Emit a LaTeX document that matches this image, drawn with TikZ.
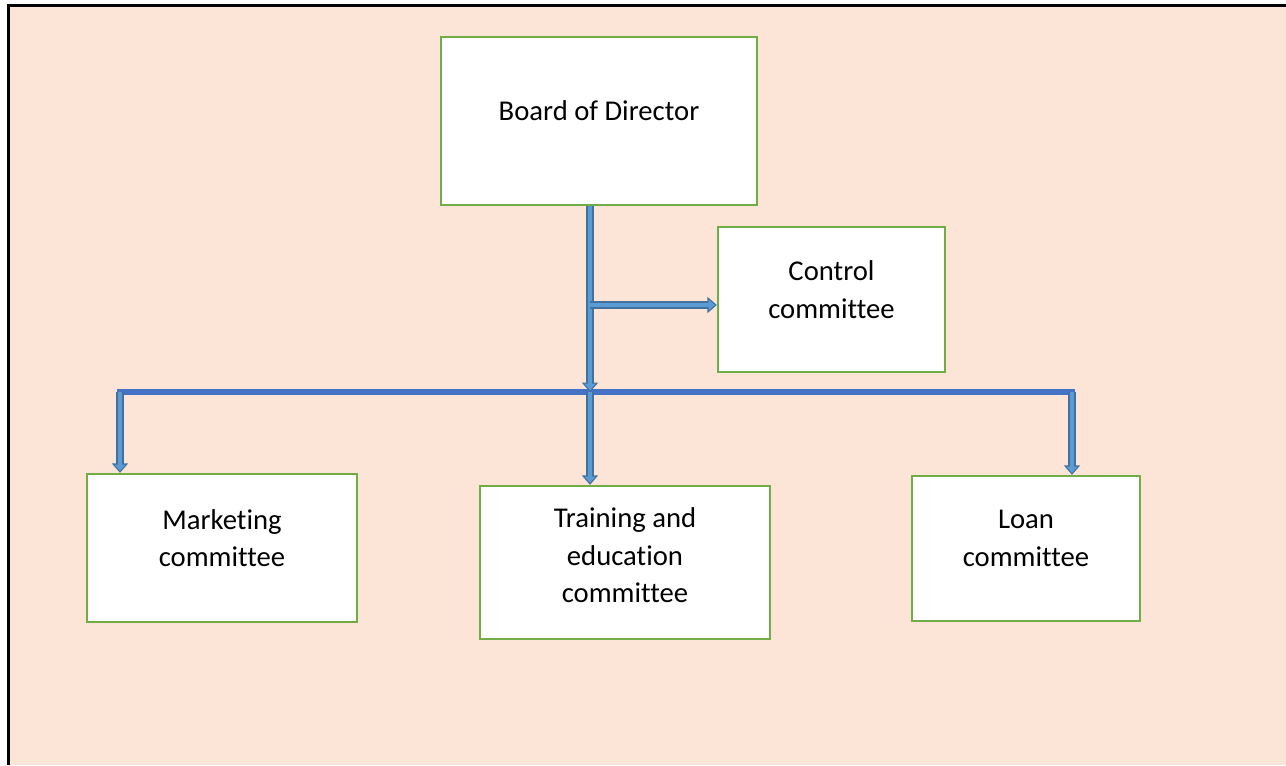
\documentclass[tikz,border=0pt]{standalone}
\usepackage{fontspec}
\setmainfont[Ligatures=NoCommon]{Carlito}
\usetikzlibrary{arrows.meta}
\definecolor{bgpeach}{HTML}{FCE4D6}
\definecolor{boxgreen}{HTML}{70AD47}
\definecolor{flowdark}{HTML}{41719C}
\definecolor{flowlight}{HTML}{5B9BD5}
\definecolor{barblue}{HTML}{4472C4}

\begin{document}
\begin{tikzpicture}[x=0.75pt,y=-0.75pt,
        cbox/.style={draw=boxgreen,line width=1.8pt,fill=white,inner sep=0pt},
        ctext/.style={align=center,font=\fontsize{21.5}{28}\selectfont},
        flow/.style={draw=flowdark,line width=6pt,
                -{Triangle[length=7pt,width=12pt,line width=0.8pt,fill=flowlight]}},
        flowin/.style={draw=flowlight,line width=2.6pt,shorten >=6pt}]
        \useasboundingbox (0,0) rectangle (1286,765);
        \fill[bgpeach] (9,6) rectangle (1286,765);
        \draw[line width=2.4pt] (8.5,765) -- (8.5,5.5) -- (1286,5.5);

        % boxes
        \node[cbox,minimum width=237pt,minimum height=126pt] (board) at (599,121) {};
        \node[cbox,minimum width=170.25pt,minimum height=108.75pt] (control) at (831.5,299.5) {};
        \node[cbox,minimum width=202.5pt,minimum height=111pt] (market) at (222,548) {};
        \node[cbox,minimum width=217.5pt,minimum height=114.75pt] (train) at (625,562.5) {};
        \node[cbox,minimum width=171pt,minimum height=108.75pt] (loan) at (1026,548.5) {};

        \node[ctext] at ([yshift=7.5pt]board.center) {Board of Director};
        \node[ctext] at ([yshift=7.5pt]control.center) {Control\\committee};
        \node[ctext] at ([yshift=7.5pt]market.center) {Marketing\\committee};
        \node[ctext] at ([yshift=5.5pt]train.center) {Training and\\education\\committee};
        \node[ctext] at ([yshift=7.5pt]loan.center) {Loan\\committee};

        % connectors
        \coordinate (hub) at (590,392);
        \coordinate (barw) at (120,392);
        \coordinate (bare) at (1072,392);
        \coordinate (tap) at (590,305);

        \draw[barblue,line width=4.5pt,line cap=rect] (barw) -- (bare);
        \foreach \a/\b in {board.south -| hub/hub, tap/tap -| control.west,
                hub/hub |- train.north, barw/barw |- market.north,
                bare/bare |- loan.north}{
                \draw[flow] (\a) -- (\b);
                \draw[flowin] (\a) -- (\b);
        }
\end{tikzpicture}
\end{document}
